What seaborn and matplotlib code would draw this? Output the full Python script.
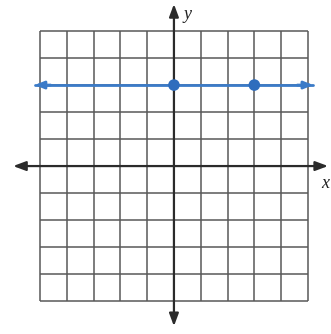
import matplotlib
matplotlib.use("Agg")
import matplotlib.pyplot as plt
import seaborn as sns
import pandas as pd

sns.set_style("white")

# grid runs from -5 to 5 on both axes
grid_ticks = [-5, -4, -3, -2, -1, 0, 1, 2, 3, 4, 5]

# the graphed horizontal line y = 3 and its two plotted points
line_x = [-5.2, 5.2]
line_y = [3, 3]
points_x = [0, 3]
points_y = [3, 3]

blue = "#3b7bc8"
grid_col = "#585858"
axis_col = "#2b2b2b"

fig = plt.figure(figsize=(3.31, 3.34), dpi=100)
ax = fig.add_axes([0, 0, 1, 1])

# graph paper
ax.vlines(grid_ticks, grid_ticks[0], grid_ticks[-1], color=grid_col, lw=1.1, zorder=1)
ax.hlines(grid_ticks, grid_ticks[0], grid_ticks[-1], color=grid_col, lw=1.1, zorder=1)

# x and y axes with arrows
arrow = dict(arrowstyle="<|-|>,head_length=0.75,head_width=0.28", color=axis_col, lw=1.6,
             shrinkA=0, shrinkB=0)
ax.annotate("", xy=(5.75, 0), xytext=(-6.0, 0), arrowprops=arrow, zorder=3)
ax.annotate("", xy=(0, 6.0), xytext=(0, -5.93), arrowprops=arrow, zorder=3)

ax.text(0.52, 5.63, "y", fontsize=13, family="Liberation Serif", style="italic",
        ha="center", va="center", color="#222222")
ax.text(5.5, -0.65, "x", fontsize=13, family="Liberation Serif", style="italic",
        ha="left", va="center", color="#222222")

# the blue line with arrows on both ends
line_df = pd.DataFrame({"x": line_x, "y": line_y})
sns.lineplot(data=line_df, x="x", y="y", color=blue, lw=2.0, ax=ax, zorder=4)
blue_arrow = dict(arrowstyle="-|>,head_length=0.55,head_width=0.22", color=blue, lw=2.0,
                  shrinkA=0, shrinkB=0)
ax.annotate("", xy=(line_x[0], line_y[0]), xytext=(line_x[0] + 0.6, line_y[0]),
            arrowprops=blue_arrow, zorder=4)
ax.annotate("", xy=(line_x[1], line_y[1]), xytext=(line_x[1] - 0.6, line_y[1]),
            arrowprops=blue_arrow, zorder=4)

pts = pd.DataFrame({"x": points_x, "y": points_y})
sns.scatterplot(data=pts, x="x", y="y", color="#2f6dbd", s=70, edgecolor="none", ax=ax, zorder=5)

ax.set_xlim(-6.49, 5.86)
ax.set_ylim(-6.22, 6.15)
ax.axis("off")

fig.savefig("out.png", dpi=100)
